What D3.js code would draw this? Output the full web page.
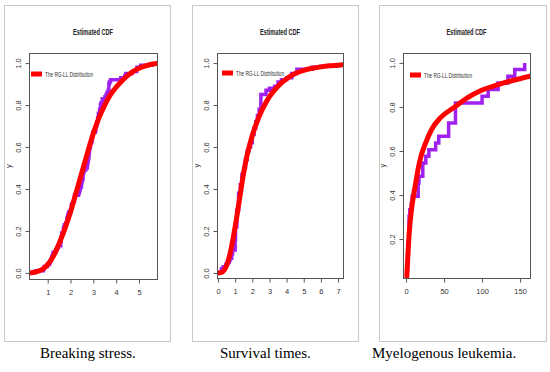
<!DOCTYPE html>
<html>
<head>
<meta charset="utf-8">
<script src="https://cdn.jsdelivr.net/npm/d3@7"></script>
<style>
  body { margin: 0; background: #fff; }
  svg { display: block; }
  .tick text { font-family: "Liberation Sans Narrow", "Liberation Sans", sans-serif; fill: #333; }
</style>
</head>
<body>
<div id="chart"></div>
<script>
// breaking stress of carbon fibres (n = 100)
const stressSample = [3.70, 2.74, 2.73, 2.50, 3.60, 3.11, 3.27, 2.87, 1.47, 3.11, 4.42, 2.41, 3.19, 3.22, 1.69,
  3.28, 3.09, 1.87, 3.15, 4.90, 3.75, 2.43, 2.95, 2.97, 3.39, 2.96, 2.53, 2.67, 2.93, 3.22, 3.39, 2.81,
  4.20, 3.33, 2.55, 3.31, 3.31, 2.85, 2.56, 3.56, 3.15, 2.35, 2.55, 2.59, 2.38, 2.81, 2.77, 2.17, 2.83,
  1.92, 1.41, 3.68, 2.97, 1.36, 0.98, 2.76, 4.91, 3.68, 1.84, 1.59, 3.19, 1.57, 0.81, 5.56, 1.73, 1.59,
  2.00, 1.22, 1.12, 1.71, 2.17, 1.17, 5.08, 2.48, 1.18, 3.51, 2.17, 1.69, 1.25, 4.38, 1.84, 0.39, 3.68,
  2.48, 0.85, 1.61, 2.79, 4.70, 2.03, 1.80, 1.57, 1.08, 2.03, 1.61, 2.12, 1.89, 2.88, 2.82, 2.05, 3.65];

const survStepX = [0.1, 0.2, 0.3, 0.45, 0.55, 0.65, 0.7, 0.8, 0.85, 1.0, 1.02, 1.1, 1.2, 1.3, 1.4, 1.5, 1.6,
  1.7, 1.8, 1.9, 2.0, 2.1, 2.2, 2.3, 2.4, 2.5, 2.8, 3.0, 3.3, 3.5, 3.7, 4.0, 4.3, 4.6, 5.5, 6.0, 6.9, 7.05];
const survStepY = [0.01, 0.02, 0.03, 0.04, 0.05, 0.06, 0.07, 0.09, 0.11, 0.16, 0.22, 0.3, 0.38, 0.42, 0.47,
  0.5, 0.54, 0.58, 0.6, 0.62, 0.66, 0.69, 0.72, 0.75, 0.78, 0.85, 0.87, 0.88, 0.89, 0.91, 0.92, 0.93, 0.95,
  0.97, 0.98, 0.985, 0.99, 1.0];

// myelogenous leukemia survival in weeks (n = 33)
const leukSample = [65, 156, 100, 134, 16, 108, 121, 4, 39, 143, 56, 26, 22, 1, 1, 5, 65,
  56, 65, 17, 7, 16, 22, 3, 4, 2, 3, 8, 4, 3, 30, 4, 43];

// fitted RG-LL cdf
const stressFitX = [0.18, 0.5, 0.8, 1.0, 1.25, 1.5, 1.75, 2.0, 2.25, 2.5, 2.75, 3.0, 3.25, 3.5, 3.75, 4.0,
  4.25, 4.5, 4.75, 5.0, 5.25, 5.5, 5.79];
const stressFitY = [0.0, 0.005, 0.02, 0.04, 0.08, 0.14, 0.21, 0.29, 0.385, 0.48, 0.575, 0.665, 0.74, 0.8,
  0.85, 0.885, 0.915, 0.94, 0.96, 0.975, 0.985, 0.993, 0.998];
const survFitX = [0, 0.25, 0.5, 0.75, 1.0, 1.25, 1.5, 1.75, 2.0, 2.25, 2.5, 2.75, 3.0, 3.5, 4.0, 4.5, 5.0,
  5.5, 6.0, 6.5, 7.0, 7.29];
const survFitY = [0, 0.005, 0.035, 0.11, 0.22, 0.35, 0.48, 0.58, 0.655, 0.715, 0.765, 0.805, 0.84, 0.89,
  0.925, 0.95, 0.965, 0.975, 0.982, 0.987, 0.99, 0.992];
const leukFitX = [1, 2, 4, 7, 10, 13, 16, 20, 25, 34, 45, 64, 80, 100, 120, 140, 163];
const leukFitY = [0.03, 0.1, 0.22, 0.33, 0.4, 0.46, 0.52, 0.58, 0.63, 0.7, 0.75, 0.8, 0.84, 0.877, 0.9,
  0.92, 0.94];

// axis ticks
const stressTicks = [1, 2, 3, 4, 5];
const survTicks = [0, 1, 2, 3, 4, 5, 6, 7];
const leukTicks = [0, 50, 100, 150];
const yTicks = [0, 0.2, 0.4, 0.6, 0.8, 1.0];
const leukYTicks = [0.2, 0.4, 0.6, 0.8, 1.0];

const captions = ['Breaking stress.', 'Survival times.', 'Myelogenous leukemia.'];
const title = 'Estimated CDF';
const legendLabel = 'The RG-LL Distribution';

// turn a sample into step points (x, F(x))
function ecdfSteps(sample) {
  const s = [...sample].sort(d3.ascending);
  const xs = Array.from(new Set(s));
  return xs.map(x => [x, d3.bisectRight(s, x) / s.length]);
}

const panels = [
  { steps: ecdfSteps(stressSample), fit: d3.zip(stressFitX, stressFitY),
    xDomain: [0.18, 5.79], yDomain: [-0.029, 1.048], xTicks: stressTicks, yTicks: yTicks,
    box: [4, 5, 170, 341], plot: [29, 53, 157, 279], legendDx: 2, legendY: 74, caption: captions[0], capX: 40 },
  { steps: d3.zip(survStepX, survStepY), fit: d3.zip(survFitX, survFitY),
    xDomain: [-0.06, 7.29], yDomain: [-0.024, 1.048], xTicks: survTicks, yTicks: yTicks,
    box: [192, 5, 358, 341], plot: [217, 53, 343, 278], legendDx: 5, legendY: 73, caption: captions[1], capX: 220 },
  { steps: ecdfSteps(leukSample), fit: d3.zip(leukFitX, leukFitY),
    xDomain: [-4, 163], yDomain: [0.023, 1.045], xTicks: leukTicks, yTicks: leukYTicks,
    box: [379, 5, 546, 341], plot: [403, 53, 530, 278], legendDx: 7, legendY: 75, caption: captions[2], capX: 372 }
];

const svg = d3.select('#chart').append('svg')
  .attr('width', 550)
  .attr('height', 372);

panels.forEach((p, i) => {
  const [bx0, by0, bx1, by1] = p.box;
  const [px0, py0, px1, py1] = p.plot;

  // light frame round each panel
  svg.append('rect')
    .attr('x', bx0 + 0.5).attr('y', by0 + 0.5)
    .attr('width', bx1 - bx0).attr('height', by1 - by0)
    .attr('fill', 'none').attr('stroke', '#c8c8c8');

  const x = d3.scaleLinear().domain(p.xDomain).range([px0, px1]);
  const y = d3.scaleLinear().domain(p.yDomain).range([py1, py0]);

  const clipId = `clip-${i}`;
  svg.append('clipPath').attr('id', clipId)
    .append('rect')
    .attr('x', px0).attr('y', py0)
    .attr('width', px1 - px0).attr('height', py1 - py0);

  const g = svg.append('g').attr('clip-path', `url(#${clipId})`);

  // empirical cdf as a step line
  g.append('path')
    .datum(p.steps)
    .attr('fill', 'none')
    .attr('stroke', '#a020f0')
    .attr('stroke-width', 3.5)
    .attr('d', d3.line().x(d => x(d[0])).y(d => y(d[1])).curve(d3.curveStepAfter));

  // fitted cdf
  g.append('path')
    .datum(p.fit)
    .attr('fill', 'none')
    .attr('stroke', '#ff0000')
    .attr('stroke-width', 5)
    .attr('stroke-linecap', 'round')
    .attr('d', d3.line().x(d => x(d[0])).y(d => y(d[1])).curve(d3.curveMonotoneX));

  // plot box
  svg.append('rect')
    .attr('x', px0 + 0.5).attr('y', py0 + 0.5)
    .attr('width', px1 - px0).attr('height', py1 - py0)
    .attr('fill', 'none').attr('stroke', '#555');

  // x axis
  const xAxis = svg.append('g')
    .attr('transform', `translate(0, ${py1 + 0.5})`)
    .call(d3.axisBottom(x).tickValues(p.xTicks).tickSize(4).tickPadding(6).tickFormat(d3.format('d')));
  xAxis.select('.domain').attr('stroke', '#555')
    .attr('d', `M${x(p.xTicks[0])},0H${x(p.xTicks[p.xTicks.length - 1])}`);
  xAxis.selectAll('.tick line').attr('stroke', '#555');
  xAxis.selectAll('.tick text').attr('font-size', 7.5);

  // y axis, labels parallel to the axis
  const yAxis = svg.append('g')
    .attr('transform', `translate(${px0 + 0.5}, 0)`)
    .call(d3.axisLeft(y).tickValues(p.yTicks).tickSize(4).tickFormat(d3.format('.1f')));
  yAxis.select('.domain').attr('stroke', '#555')
    .attr('d', `M0,${y(p.yTicks[0])}V${y(p.yTicks[p.yTicks.length - 1])}`);
  yAxis.selectAll('.tick line').attr('stroke', '#555');
  yAxis.selectAll('.tick text')
    .attr('font-size', 7.5)
    .attr('x', null).attr('dy', null)
    .attr('text-anchor', 'middle')
    .attr('transform', 'translate(-9, 0) rotate(-90)');

  svg.append('text')
    .attr('transform', `translate(${px0 - 18}, ${(py0 + py1) / 2}) rotate(-90)`)
    .attr('text-anchor', 'middle')
    .attr('font-family', 'Liberation Sans Narrow, Liberation Sans, sans-serif')
    .attr('font-size', 7.5).attr('fill', '#333')
    .text('y');

  // title
  svg.append('text')
    .attr('x', (px0 + px1) / 2).attr('y', 35)
    .attr('text-anchor', 'middle')
    .attr('font-family', 'Liberation Sans Narrow, Liberation Sans, sans-serif')
    .attr('font-weight', 'bold').attr('font-size', 9).attr('fill', '#222')
    .attr('textLength', 40).attr('lengthAdjust', 'spacingAndGlyphs')
    .text(title);

  // legend
  const lx = px0 + p.legendDx;
  svg.append('line')
    .attr('x1', lx).attr('x2', lx + 11)
    .attr('y1', p.legendY).attr('y2', p.legendY)
    .attr('stroke', '#ff0000').attr('stroke-width', 5);
  svg.append('text')
    .attr('x', lx + 14).attr('y', p.legendY + 2.5)
    .attr('font-family', 'Liberation Sans Narrow, Liberation Sans, sans-serif')
    .attr('font-size', 7.5).attr('fill', '#333')
    .attr('textLength', 48).attr('lengthAdjust', 'spacingAndGlyphs')
    .text(legendLabel);

  // caption below the panel
  svg.append('text')
    .attr('x', p.capX).attr('y', 358)
    .attr('font-family', 'Liberation Serif, Times New Roman, serif')
    .attr('font-size', 15).attr('fill', '#000')
    .text(p.caption);
});
</script>
</body>
</html>
